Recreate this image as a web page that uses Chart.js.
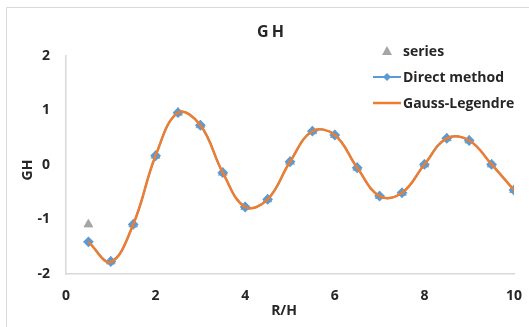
<!DOCTYPE html>
<html>
<head>
<meta charset="utf-8">
<script src="https://cdn.jsdelivr.net/npm/chart.js@4.4.1/dist/chart.umd.min.js"></script>
<style>
  html, body { margin: 0; padding: 0; background: #ffffff; }
  #wrap { width: 529px; height: 327px; position: relative; }
</style>
</head>
<body>
<div id="wrap"><canvas id="gh"></canvas></div>
<script>
// R/H sample positions
const rOverH = [0.5, 1, 1.5, 2, 2.5, 3, 3.5, 4, 4.5, 5, 5.5, 6, 6.5, 7, 7.5, 8, 8.5, 9, 9.5, 10];

// GH values per method
const seriesValues = [-1.09, -1.77, -1.09, 0.17, 0.96, 0.73, -0.14, -0.77, -0.63, 0.06, 0.62, 0.55, -0.05, -0.57, -0.51, 0.01, 0.49, 0.45, 0.01, -0.46];
const directValues = [-1.41, -1.77, -1.09, 0.17, 0.96, 0.73, -0.14, -0.77, -0.63, 0.06, 0.62, 0.55, -0.05, -0.57, -0.51, 0.01, 0.49, 0.45, 0.01, -0.46];
const gaussValues  = [-1.41, -1.78, -1.09, 0.17, 0.96, 0.73, -0.14, -0.77, -0.63, 0.06, 0.62, 0.55, -0.05, -0.57, -0.51, 0.01, 0.49, 0.45, 0.01, -0.46];

const xTicks = [0, 2, 4, 6, 8, 10];
const yTicks = [-2, -1, 0, 1, 2];

const seriesNames = ['series', 'Direct method', 'Gauss-Legendre'];
const chartTitle = 'GH';
const xTitle = 'R/H';
const yTitle = 'GH';

const BLUE = '#5b9bd5', ORANGE = '#ed7d31', GREY = '#a5a5a5';
const FONT = '"Open Sans", "Liberation Sans", sans-serif';
const TEXT = '#262626';

const pts = vals => rOverH.map((x, i) => ({ x: x, y: vals[i] }));

// Frame, title, axis titles and legend block
const decorations = {
  id: 'decorations',
  beforeDraw(chart) {
    const c = chart.ctx;
    c.save();
    c.fillStyle = '#ffffff';
    c.fillRect(0, 0, chart.width, chart.height);
    c.strokeStyle = '#d9d9d9';
    c.lineWidth = 1;
    c.beginPath();
    c.moveTo(6.5, chart.height);
    c.lineTo(6.5, 7.5);
    c.lineTo(chart.width, 7.5);
    c.stroke();
    c.restore();
  },
  afterDraw(chart) {
    const c = chart.ctx;
    c.save();
    c.fillStyle = TEXT;
    c.textAlign = 'center';
    c.textBaseline = 'middle';

    // chart title
    c.font = 'bold 16px ' + FONT;
    if ('letterSpacing' in c) c.letterSpacing = '3px';
    c.fillText(chartTitle, 272, 32);
    if ('letterSpacing' in c) c.letterSpacing = '0px';

    // axis titles
    c.font = 'bold 14px ' + FONT;
    c.fillText(xTitle, 284, 311);
    c.save();
    c.translate(28, 170);
    c.rotate(-Math.PI / 2);
    c.fillText(yTitle, 0, 0);
    c.restore();

    // legend
    const lx = 387, tx = 403;
    const rows = [51, 77, 103];
    c.textAlign = 'left';
    c.font = 'bold 14px ' + FONT;
    seriesNames.forEach((name, i) => {
      const y = rows[i];
      const ds = chart.data.datasets[i];
      if (ds.showLine !== false) {
        c.strokeStyle = ds.borderColor;
        c.lineWidth = ds.borderWidth;
        c.beginPath();
        c.moveTo(lx - 14, y);
        c.lineTo(lx + 14, y);
        c.stroke();
      }
      if (ds.pointStyle === 'triangle') {
        c.fillStyle = ds.pointBackgroundColor;
        c.beginPath();
        c.moveTo(lx, y - 5);
        c.lineTo(lx + 5, y + 4);
        c.lineTo(lx - 5, y + 4);
        c.closePath();
        c.fill();
      } else if (ds.pointStyle === 'rectRot' && ds.pointRadius > 0) {
        c.fillStyle = ds.pointBackgroundColor;
        c.beginPath();
        c.moveTo(lx, y - 4);
        c.lineTo(lx + 4, y);
        c.lineTo(lx, y + 4);
        c.lineTo(lx - 4, y);
        c.closePath();
        c.fill();
      }
      c.fillStyle = TEXT;
      c.fillText(name, tx, y + 1);
    });
    c.restore();
  }
};

new Chart(document.getElementById('gh'), {
  type: 'line',
  data: {
    datasets: [
      {
        label: seriesNames[0],
        data: pts(seriesValues),
        showLine: false,
        pointStyle: 'triangle',
        pointRadius: 5,
        pointBackgroundColor: GREY,
        pointBorderColor: GREY,
        borderColor: GREY,
        order: 3
      },
      {
        label: seriesNames[1],
        data: pts(directValues),
        borderColor: BLUE,
        borderWidth: 2,
        tension: 0.4,
        pointStyle: 'rectRot',
        pointRadius: 4,
        pointBackgroundColor: BLUE,
        pointBorderColor: BLUE,
        order: 2
      },
      {
        label: seriesNames[2],
        data: pts(gaussValues),
        borderColor: ORANGE,
        borderWidth: 2.5,
        tension: 0.4,
        pointRadius: 0,
        order: 1
      }
    ]
  },
  options: {
    responsive: true,
    maintainAspectRatio: false,
    animation: false,
    events: [],
    layout: { padding: { left: 0, right: 15, top: 56, bottom: 0 } },
    plugins: { legend: { display: false }, title: { display: false }, tooltip: { enabled: false } },
    scales: {
      x: {
        type: 'linear',
        min: 0, max: 10,
        afterBuildTicks: s => { s.ticks = xTicks.map(v => ({ value: v })); },
        afterFit: s => { s.height = 53; s.paddingLeft = 0; s.paddingRight = 0; },
        grid: { display: false, drawTicks: false },
        border: { display: true, color: '#d9d9d9', width: 1.5 },
        ticks: { padding: 14, color: TEXT, font: { family: FONT, weight: 'bold', size: 14 } }
      },
      y: {
        min: -2, max: 2,
        afterBuildTicks: s => { s.ticks = yTicks.map(v => ({ value: v })); },
        afterFit: s => { s.width = 66; s.paddingTop = 0; s.paddingBottom = 0; },
        grid: { display: false, drawTicks: false },
        border: { display: true, color: '#d9d9d9', width: 1.5 },
        ticks: { padding: 16, color: TEXT, font: { family: FONT, weight: 'bold', size: 14 } }
      }
    }
  },
  plugins: [decorations]
});
</script>
</body>
</html>
